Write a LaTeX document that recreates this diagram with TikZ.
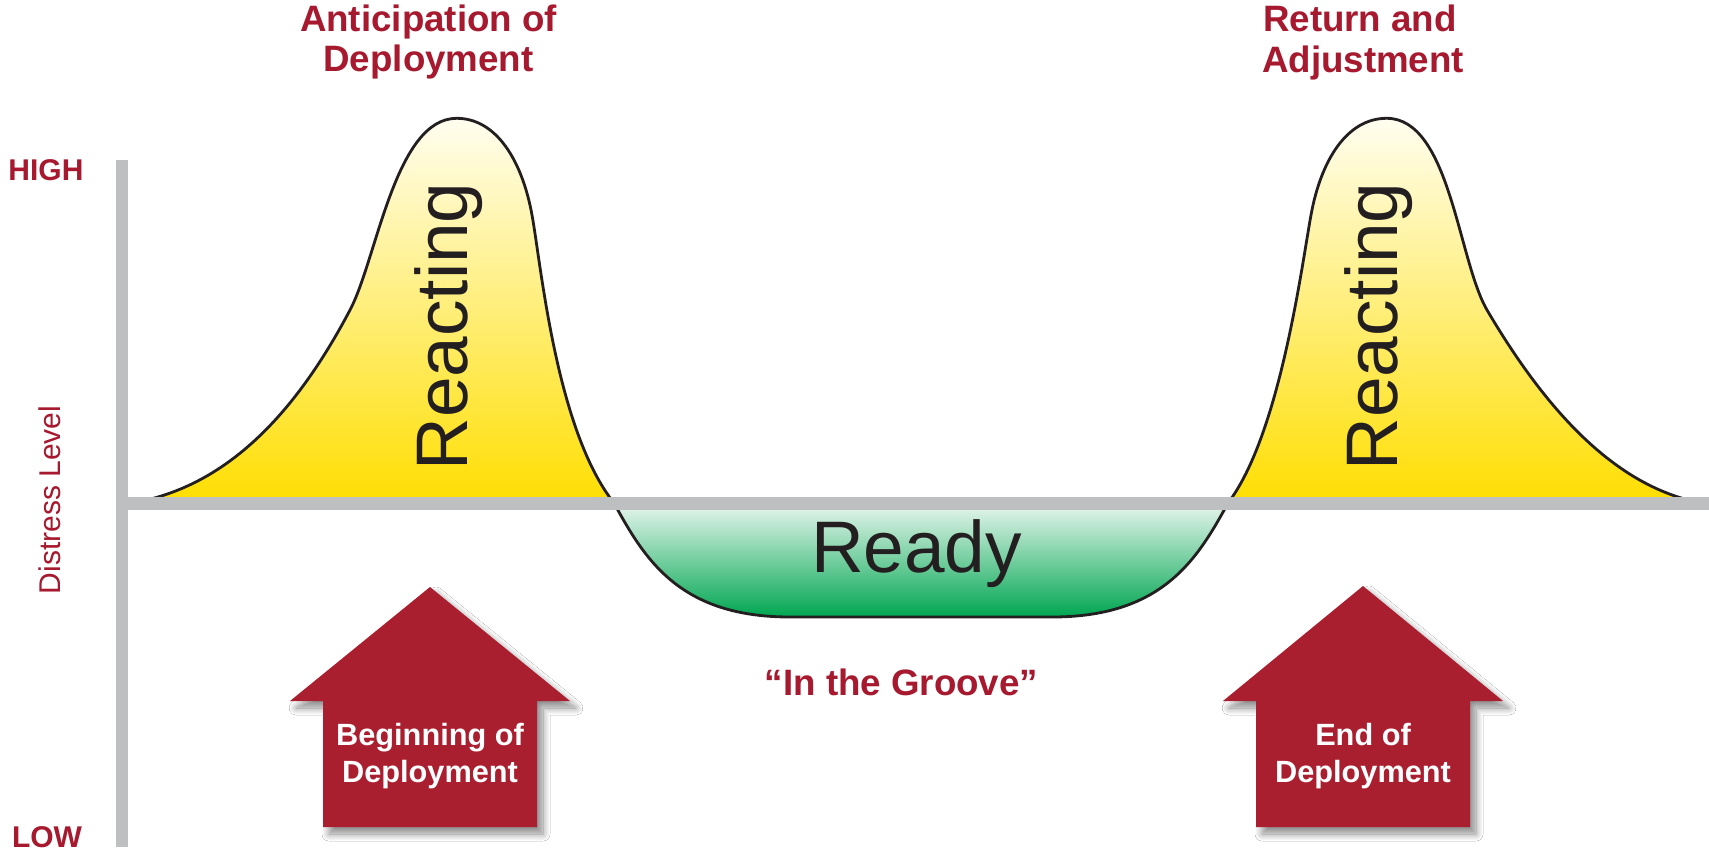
\documentclass[tikz,border=0pt]{standalone}
\usepackage{fontspec}
\setmainfont{Liberation Sans}
\usetikzlibrary{shadows.blur}
\definecolor{dred}{RGB}{166,25,46}
\definecolor{arrred}{RGB}{170,31,48}
\definecolor{axisgray}{RGB}{190,191,193}
\definecolor{inkblack}{RGB}{35,31,32}
\definecolor{ytop}{RGB}{255,254,240}
\definecolor{ymid}{RGB}{255,242,150}
\definecolor{ybot}{RGB}{255,222,0}
\definecolor{gtop}{RGB}{232,246,238}
\definecolor{gmid}{RGB}{120,205,160}
\definecolor{gbot}{RGB}{0,166,81}
\begin{document}
\begin{tikzpicture}[x=1pt,y=-1pt,
  curve/.style={draw=inkblack, line width=2.8pt, line join=round},
  peakfill/.style={top color=ytop, middle color=ymid, bottom color=ybot},
  bowlfill/.style={top color=gtop, middle color=gmid, bottom color=gbot},
  title/.style={text=dred, font=\bfseries\fontsize{36.7}{40}\selectfont, inner sep=0pt, anchor=base},
  axlab/.style={text=dred, font=\bfseries\fontsize{30}{32}\selectfont, inner sep=0pt, anchor=base},
  ylab/.style={text=dred, font=\fontsize{30}{32}\selectfont, inner sep=0pt, anchor=base},
  bigword/.style={text=inkblack, font=\fontsize{73}{75}\selectfont, inner sep=0pt, anchor=base},
  arrtxt/.style={text=white, font=\bfseries\fontsize{30.7}{33}\selectfont, inner sep=0pt, anchor=base},
  uparrow/.style={fill=arrred, blur shadow={shadow xshift=6pt, shadow yshift=-7pt, shadow opacity=45, shadow blur radius=7pt, shadow blur steps=12}}
]
\useasboundingbox (0,0) rectangle (1709,851);
\fill[white] (0,0) rectangle (1709,851);

% left peak
\draw[curve, peakfill] (125,504) .. controls (230,490) and (300,405) .. (350,310)
  .. controls (377,259) and (395,118.3) .. (456.7,118.3)
  .. controls (496,118.3) and (522,160) .. (532,215)
  .. controls (541,264) and (556,430) .. (614,503) -- cycle;
% bowl
\draw[curve, bowlfill] (614,503) .. controls (645,560) and (680,617) .. (790,617)
  -- (1052,617) .. controls (1162,617) and (1197,560) .. (1228,503) -- cycle;
% right peak
\draw[curve, peakfill] (1228,503) .. controls (1280,435) and (1302,264) .. (1311,215)
  .. controls (1321,160) and (1347,118.3) .. (1386.7,118.3)
  .. controls (1450,118.3) and (1458,260) .. (1487,310)
  .. controls (1540,400) and (1612,490) .. (1708,504) -- cycle;

% axes
\fill[axisgray] (116,160) rectangle (128,847);
\fill[axisgray] (116,497) rectangle (1709,510);

% titles
\node[title] (antA) at (428.5,32) {Anticipation of};
\node[title] (antB) at (428.5,72) {Deployment};
\node[title] (retA) at (1360,32) {Return and};
\node[title] (retB) at (1363,73) {Adjustment};

% axis labels
\node[axlab] (high) at (46,180) {HIGH};
\node[axlab] (low) at (47,847) {LOW};
\node[ylab, rotate=90] (dist) at (60,500) {Distress Level};

% phase words
\node[bigword, rotate=90] (reactL) at (467,326.5) {Reacting};
\node[bigword, rotate=90] (reactR) at (1397,326.5) {Reacting};
\node[bigword] (ready) at (916.5,572) {Ready};
\node[title] (groove) at (901.5,695) {“In the Groove”};

% arrows
\path[uparrow] (430,587) -- (570,701) -- (537,701) -- (537,827) -- (323,827) -- (323,701) -- (290,701) -- cycle;
\path[uparrow] (1363,586) -- (1503,701) -- (1470,701) -- (1470,827) -- (1256,827) -- (1256,701) -- (1223,701) -- cycle;
\node[arrtxt] (begA) at (430,745) {Beginning of};
\node[arrtxt] (begB) at (430,782) {Deployment};
\node[arrtxt] (endA) at (1363,745) {End of};
\node[arrtxt] (endB) at (1363,782) {Deployment};
\end{tikzpicture}
\end{document}
